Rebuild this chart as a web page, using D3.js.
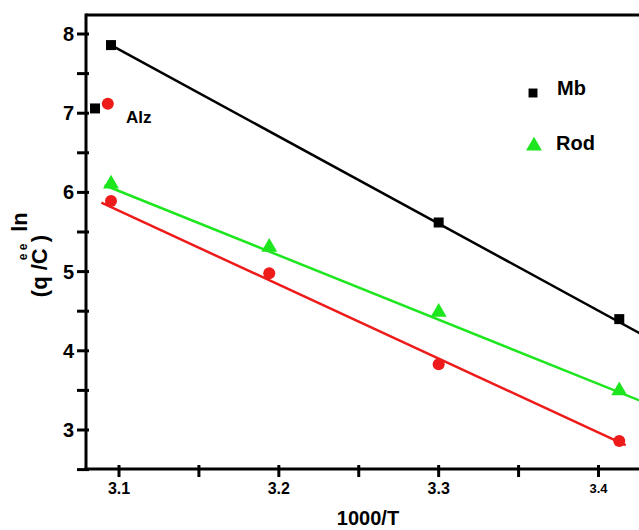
<!DOCTYPE html>
<html>
<head>
<meta charset="utf-8">
<script src="https://cdn.jsdelivr.net/npm/d3@7"></script>
<style>
  body { margin: 0; background: #fff; }
  text { font-family: Arial, "Liberation Sans", sans-serif; font-weight: bold; fill: #000; }
</style>
</head>
<body>
<svg id="chart" width="639" height="530"></svg>
<script>
// measured points (1000/T, ln(qe/Ce))
const xVals = [3.095, 3.194, 3.300, 3.413];
const mbX = [3.095, 3.300, 3.413];
const mbY = [7.86, 5.62, 4.40];
const rodY = [6.12, 5.32, 4.50, 3.51];
const alzY = [5.89, 4.98, 3.83, 2.86];

// fitted lines, read as end points
const mbFitX = [3.095, 3.426];
const mbFitY = [7.86, 4.22];
const rodFitX = [3.091, 3.426];
const rodFitY = [6.09, 3.37];
const alzFitX = [3.089, 3.417];
const alzFitY = [5.87, 2.81];

// stray markers near the axis (Alz label markers)
const alzMarkX = [3.093];
const alzMarkY = [7.12];
const sqMarkX = [3.085];
const sqMarkY = [7.06];

const xMajor = [3.1, 3.2, 3.3, 3.4];
const xMinor = [3.15, 3.25, 3.35];
const yMajor = [3, 4, 5, 6, 7, 8];
const yMinor = [2.5, 3.5, 4.5, 5.5, 6.5, 7.5];

const RED = '#ee1b1b', GREEN = '#1ee61e', BLACK = '#000';

const svg = d3.select('#chart');
const m = { left: 86, bottom: 469, top: 15, right: 639 };

const x = d3.scaleLinear().domain([3.1, 3.4]).range([119, 598.5]);
const y = d3.scaleLinear().domain([3, 8]).range([430, 34]);

// frame
svg.append('line').attr('x1', m.left).attr('x2', m.right).attr('y1', m.top).attr('y2', m.top)
  .attr('stroke', BLACK).attr('stroke-width', 3);
svg.append('line').attr('x1', m.left).attr('x2', m.left).attr('y1', m.top - 1.5).attr('y2', m.bottom + 1.5)
  .attr('stroke', BLACK).attr('stroke-width', 3);
svg.append('line').attr('x1', m.left - 1.5).attr('x2', m.right).attr('y1', m.bottom).attr('y2', m.bottom)
  .attr('stroke', BLACK).attr('stroke-width', 3);

// y ticks
svg.append('g').selectAll('line').data(yMajor.concat(yMinor)).join('line')
  .attr('x1', m.left - 9).attr('x2', m.left + 3)
  .attr('y1', d => y(d)).attr('y2', d => y(d))
  .attr('stroke', BLACK).attr('stroke-width', 3);
svg.append('g').selectAll('text').data(yMajor).join('text')
  .attr('x', 74).attr('y', d => y(d) + 7)
  .attr('text-anchor', 'end').attr('font-size', 20)
  .text(d => d);

// x ticks
svg.append('g').selectAll('line').data(xMajor.concat(xMinor)).join('line')
  .attr('x1', d => x(d)).attr('x2', d => x(d))
  .attr('y1', m.bottom - 4).attr('y2', m.bottom + 8)
  .attr('stroke', BLACK).attr('stroke-width', 3);
svg.append('g').selectAll('text').data(xMajor).join('text')
  .attr('x', d => x(d)).attr('y', d => d === 3.4 ? 493 : 494)
  .attr('text-anchor', 'middle').attr('font-size', d => d === 3.4 ? 13 : 16)
  .text(d => d.toFixed(1));

// axis titles
svg.append('text').attr('x', 368).attr('y', 525).attr('text-anchor', 'middle')
  .attr('font-size', 20).text('1000/T');

const yt = svg.append('g').attr('transform', 'translate(47,266) rotate(-90)');
yt.append('text').attr('x', 0).attr('y', 0).attr('text-anchor', 'middle')
  .attr('font-size', 22).text('(q /C )');
yt.append('text').attr('x', 44).attr('y', -20).attr('text-anchor', 'middle')
  .attr('font-size', 22).text('ln');
yt.append('text').attr('x', 14).attr('y', -20).attr('text-anchor', 'middle')
  .attr('font-size', 12).text('e e');

// fitted lines
const line = d3.line().x(d => x(d[0])).y(d => y(d[1]));
[[mbFitX, mbFitY, BLACK], [rodFitX, rodFitY, GREEN], [alzFitX, alzFitY, RED]].forEach(([fx, fy, c]) => {
  svg.append('path').datum(d3.zip(fx, fy)).attr('d', line)
    .attr('fill', 'none').attr('stroke', c).attr('stroke-width', 2.5);
});

// markers
const sq = d3.symbol().type(d3.symbolSquare).size(100);
const tri = d3.symbol().type(d3.symbolTriangle).size(110);

svg.append('g').selectAll('path').data(d3.zip(mbX.concat(sqMarkX), mbY.concat(sqMarkY))).join('path')
  .attr('transform', d => `translate(${x(d[0])},${y(d[1])})`)
  .attr('d', sq).attr('fill', BLACK);
svg.append('g').selectAll('path').data(d3.zip(xVals, rodY)).join('path')
  .attr('transform', d => `translate(${x(d[0])},${y(d[1]) + 1})`)
  .attr('d', tri).attr('fill', GREEN);
svg.append('g').selectAll('circle').data(d3.zip(xVals.concat(alzMarkX), alzY.concat(alzMarkY))).join('circle')
  .attr('cx', d => x(d[0])).attr('cy', d => y(d[1])).attr('r', 6)
  .attr('fill', RED);

// labels / legend
svg.append('text').attr('x', 126).attr('y', 123).attr('font-size', 17).text('Alz');
svg.append('path').attr('transform', 'translate(533,93)')
  .attr('d', d3.symbol().type(d3.symbolSquare).size(80)).attr('fill', BLACK);
svg.append('text').attr('x', 557).attr('y', 95).attr('font-size', 20).text('Mb');
svg.append('path').attr('transform', 'translate(534,146)').attr('d', tri).attr('fill', GREEN);
svg.append('text').attr('x', 556).attr('y', 150).attr('font-size', 20).text('Rod');
</script>
</body>
</html>
